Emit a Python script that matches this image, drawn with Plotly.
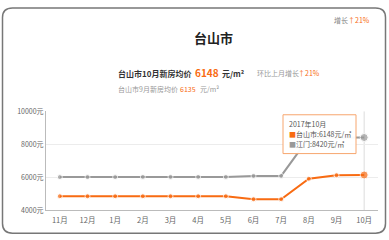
import plotly.graph_objects as go

months = ["11月", "12月", "1月", "2月", "3月", "4月", "5月", "6月", "7月", "8月", "9月", "10月"]
taishan = [4860, 4860, 4860, 4860, 4860, 4860, 4860, 4680, 4680, 5920, 6135, 6148]
jiangmen = [6020, 6020, 6020, 6030, 6030, 6030, 6030, 6090, 6090, 8400, 8410, 8420]
y_ticks = [4000, 6000, 8000, 10000]
y_labels = ["4000元", "6000元", "8000元", "10000元"]

ORANGE = "#f86b12"
GRAY = "#999999"
FONT = "Noto Sans CJK SC"
W, H = 389, 240

def px(x):
    return x / W

def py(y):
    return 1 - y / H

sizes = [5] * (len(months) - 1) + [8]

fig = go.Figure()
fig.add_trace(go.Scatter(x=months, y=jiangmen, mode="lines+markers",
                         line=dict(color=GRAY, width=2),
                         marker=dict(color=GRAY, size=sizes, symbol="circle"),
                         hoverinfo="skip"))
fig.add_trace(go.Scatter(x=months, y=taishan, mode="lines+markers",
                         line=dict(color=ORANGE, width=2),
                         marker=dict(color=ORANGE, size=sizes, symbol="circle"),
                         hoverinfo="skip"))

# rounded outer border
r_x, r_y = px(10), 10 / H
x0, x1 = px(2.5), px(385.5)
y0, y1 = py(237), py(2)
path = (f"M {x0 + r_x},{y1} L {x1 - r_x},{y1} Q {x1},{y1} {x1},{y1 - r_y} "
        f"L {x1},{y0 + r_y} Q {x1},{y0} {x1 - r_x},{y0} "
        f"L {x0 + r_x},{y0} Q {x0},{y0} {x0},{y0 + r_y} "
        f"L {x0},{y1 - r_y} Q {x0},{y1} {x0 + r_x},{y1} Z")
shapes = [
    dict(type="path", xref="paper", yref="paper", path=path,
         line=dict(color="#777777", width=1.5), layer="below"),
    dict(type="line", xref="x", yref="paper", x0="10月", x1="10月",
         y0=py(213.3), y1=py(110), line=dict(color="#dddddd", width=1), layer="below"),
    # tooltip box
    dict(type="rect", xref="paper", yref="paper", x0=px(283), x1=px(356),
         y0=py(154), y1=py(113.5), line=dict(color="#f7a66e", width=1),
         fillcolor="rgba(255,255,255,0.95)", layer="above"),
]

ann = []
def text(x, y, t, size, color, bold=False, anchor="left"):
    if bold:
        t = f"<b>{t}</b>"
    ann.append(dict(x=px(x), y=py(y), xref="paper", yref="paper", text=t,
                    showarrow=False, xanchor=anchor, yanchor="middle",
                    font=dict(family=FONT, size=size, color=color)))

text(332, 14.5, "增长", 7, "#888888")
text(346, 14.5, "↑21%", 7, ORANGE)
text(213, 33, "台山市", 13, "#222222", bold=True, anchor="center")
text(116, 70, "台山市10月新房均价", 8, "#333333", bold=True)
text(193, 69.5, "6148", 10, ORANGE, bold=True)
text(220, 70, "元/m²", 8, "#333333", bold=True)
text(255, 70, "环比上月增长", 7, "#999999")
text(296, 70, "↑21%", 7, ORANGE)
text(116, 87, "台山市9月新房均价", 7, "#999999")
text(178, 87, "6135", 7, ORANGE)
text(198, 87, "元/m²", 7, "#999999")
# tooltip content
text(287, 123.5, "2017年10月", 7, "#555555")
text(287, 133.5, f"<span style='color:{ORANGE}'>■</span>台山市:{taishan[-1]}元/㎡", 7, "#555555")
text(287, 143.5, f"<span style='color:{GRAY}'>■</span>江门:{jiangmen[-1]}元/㎡", 7, "#555555")

fig.update_layout(
    width=W, height=H, margin=dict(l=0, r=0, t=0, b=0),
    paper_bgcolor="white", plot_bgcolor="white", showlegend=False,
    shapes=shapes, annotations=ann,
    xaxis=dict(domain=[px(46), px(378)], type="category", range=[-0.5, 11.5],
               showgrid=False, showline=True, linecolor="#bbbbbb", linewidth=1,
               ticks="", ticklabelstandoff=3,
               tickfont=dict(family=FONT, size=7.5, color="#666666")),
    yaxis=dict(domain=[py(213.3), py(110)], range=[4000, 10000],
               tickvals=y_ticks, ticktext=y_labels,
               showgrid=True, gridcolor="#ececec", showline=True,
               linecolor="#bbbbbb", linewidth=1, zeroline=False, ticks="",
               tickfont=dict(family=FONT, size=7, color="#666666")),
    font=dict(family=FONT),
)
fig.write_html("out.html")
